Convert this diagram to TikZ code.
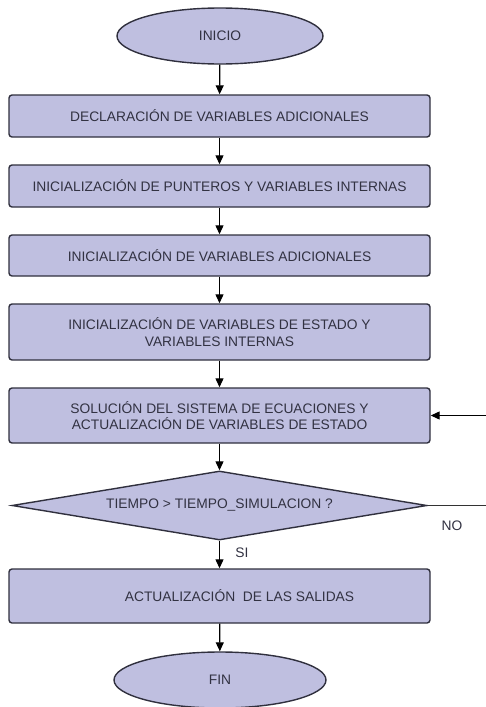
\documentclass[tikz,border=0pt]{standalone}
\usepackage{fontspec}
\setmainfont{Liberation Sans}
\usetikzlibrary{shapes.geometric,arrows.meta}
\definecolor{boxfill}{RGB}{191,191,224}
\definecolor{boxline}{RGB}{48,48,62}
\definecolor{boxtext}{RGB}{50,50,66}
\tikzset{
  every node/.style={font=\fontsize{13.8}{16.5}\selectfont, text=boxtext},
  stepbox/.style={draw=boxline, fill=boxfill, line width=1.4pt, rounded corners=3pt,
    minimum width=421pt, inner sep=0pt, align=center},
  terminal/.style={draw=boxline, fill=boxfill, line width=1.4pt, ellipse,
    minimum height=56pt, inner sep=0pt},
  decision/.style={draw=boxline, fill=boxfill, line width=1.4pt, diamond,
    minimum width=415pt, minimum height=69pt, inner sep=0pt, aspect=6},
  flow/.style={line width=1.2pt, draw=black, -{Triangle[length=9pt,width=8pt]}},
  plain/.style={line width=1.2pt, draw=black!80}
}

\begin{document}
\begin{tikzpicture}[x=1pt, y=-1pt]
			%%%%% START %%%%%
			\useasboundingbox (0,0) rectangle (486,707);
			
			\node[terminal, minimum width=206pt] (inicio) at (220,36) {INICIO};
			\node[stepbox, minimum height=42pt] (declara) at (219.5,116) {DECLARACIÓN DE VARIABLES ADICIONALES};
			\node[stepbox, minimum height=42pt] (punteros) at (219.5,186) {INICIALIZACIÓN DE PUNTEROS Y VARIABLES INTERNAS};
			\node[stepbox, minimum height=41pt] (iniadic) at (219.5,255.5) {INICIALIZACIÓN DE VARIABLES ADICIONALES};
			\node[stepbox, minimum height=56pt] (iniestado) at (219.5,332) {INICIALIZACIÓN DE VARIABLES DE ESTADO Y\\VARIABLES INTERNAS};
			\node[stepbox, minimum height=55pt] (solucion) at (219.5,415.5) {SOLUCIÓN DEL SISTEMA DE ECUACIONES Y\\ACTUALIZACIÓN DE VARIABLES DE ESTADO};
			\node[decision] (tiempo) at (219.5,505.5) {TIEMPO > TIEMPO\_SIMULACION ?};
			\node[stepbox, minimum height=54pt] (salidas) at (219.5,596) {\hspace*{40pt}ACTUALIZACIÓN~ DE LAS SALIDAS};
			\node[terminal, minimum width=212pt] (fin) at (220,680) {FIN};
			
			\draw[flow] (inicio) -- (declara);
			\draw[flow] (declara) -- (punteros);
			\draw[flow] (punteros) -- (iniadic);
			\draw[flow] (iniadic) -- (iniestado);
			\draw[flow] (iniestado) -- (solucion);
			\draw[flow] (solucion) -- (tiempo);
			\draw[flow] (tiempo) -- node[right=12pt, pos=0.45] (si) {SI} (salidas);
			\draw[flow] (salidas) -- (fin);
			
			% lazo de vuelta (sale por el borde derecho)
			\coordinate (lazoa) at (486,505.5);
			\coordinate (lazob) at (486,415.5);
			\draw[plain] (tiempo.east) -- (lazoa);
			\draw[flow] (lazob) -- (solucion.east);
			\node (no) at (452,526) {NO};
			
			%%%%% END %%%%%
\end{tikzpicture}
\end{document}
